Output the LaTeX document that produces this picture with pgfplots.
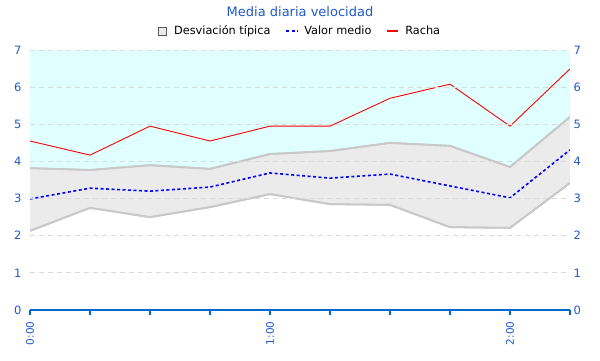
\documentclass[border=0pt]{standalone}
\usepackage{pgfplots}
\pgfplotsset{compat=1.18}
\usepgfplotslibrary{fillbetween}
\usepackage{fontspec}
\setmainfont{DejaVu Sans}
\definecolor{bgcyan}{RGB}{224,255,255}
\definecolor{bandfill}{RGB}{235,235,235}
\definecolor{bandline}{RGB}{200,200,200}
\definecolor{axblue}{RGB}{0,102,204}
\definecolor{txtblue}{RGB}{30,90,200}
\definecolor{gridc}{RGB}{218,218,218}
\begin{document}
\begin{tikzpicture}[x=1pt,y=1pt]
\begin{axis}[
  at={(0,0)}, anchor=south west,
  scale only axis, width=540pt, height=260pt,
  xmin=0, xmax=9, ymin=0, ymax=7,
  axis on top,
  axis x line*=bottom, axis y line*=left,
  y axis line style={draw=none},
  x axis line style={draw=axblue, line width=1.2pt},
  xtick={0,...,9},
  xticklabels={0:00,,,,1:00,,,,2:00,},
  xtick style={draw=axblue, line width=1.2pt},
  tick align=outside,
  major tick length=5pt,
  xticklabel style={rotate=90, anchor=east, font=\fontsize{10.5}{11}\selectfont, text=txtblue, xshift=-3pt},
  ytick={0,...,7},
  ytick style={draw=none},
  yticklabel style={font=\fontsize{11.5}{13}\selectfont, text=txtblue},
  ymajorgrids,
  grid style={gridc, dash pattern=on 5pt off 4pt, line width=0.8pt},
  /pgf/number format/assume math mode=true,
  legend style={at={(0.5,1)}, anchor=center, yshift=19pt, draw=none, fill=none,
    legend columns=3, font=\fontsize{11.3}{13}\selectfont,
    /tikz/every even column/.append style={column sep=13pt}},
  legend cell align=left,
]
% cyan background above band
\addplot[draw=none, fill=bgcyan, forget plot] coordinates {
 (0,3.82) (1,3.77) (2,3.90) (3,3.80) (4,4.20) (5,4.28) (6,4.50) (7,4.42) (8,3.85) (9,5.20)
 (9,7) (0,7)} \closedcycle;
\addplot[name path=up, draw=bandline, line width=1.8pt, forget plot] coordinates {
 (0,3.82) (1,3.77) (2,3.90) (3,3.80) (4,4.20) (5,4.28) (6,4.50) (7,4.42) (8,3.85) (9,5.20)};
\addplot[name path=lo, draw=bandline, line width=1.8pt, forget plot] coordinates {
 (0,2.13) (1,2.75) (2,2.50) (3,2.77) (4,3.12) (5,2.85) (6,2.83) (7,2.23) (8,2.21) (9,3.42)};
\addplot[fill=bandfill, draw=none, forget plot] fill between[of=up and lo];
\addplot[draw=bandline, line width=1.8pt, forget plot] coordinates {
 (0,3.82) (1,3.77) (2,3.90) (3,3.80) (4,4.20) (5,4.28) (6,4.50) (7,4.42) (8,3.85) (9,5.20)};
\addplot[draw=bandline, line width=1.8pt, forget plot] coordinates {
 (0,2.13) (1,2.75) (2,2.50) (3,2.77) (4,3.12) (5,2.85) (6,2.83) (7,2.23) (8,2.21) (9,3.42)};
\addlegendimage{legend image code/.code={\path[draw=none,fill=none] (0pt,0pt) -- (14pt,0pt);\draw[fill=bandfill, draw=gray!70!black, line width=0.6pt] (0pt,-4pt) rectangle (8pt,4pt);}}
\addlegendentry{Desviación típica}
\addplot[blue, line width=1.6pt, dash pattern=on 3pt off 2.5pt,
  legend image code/.code={\draw (0pt,0pt) -- (12pt,0pt);\path[draw=none] (0pt,0pt) -- (16pt,0pt);}] coordinates {
 (0,2.99) (1,3.28) (2,3.20) (3,3.31) (4,3.69) (5,3.55) (6,3.66) (7,3.34) (8,3.02) (9,4.31)};
\addlegendentry{Valor medio}
\addplot[red, line width=0.9pt,
  legend image code/.code={\draw[line width=1.6pt] (0pt,0pt) -- (11pt,0pt);\path[draw=none] (0pt,0pt) -- (16pt,0pt);}] coordinates {
 (0,4.55) (1,4.17) (2,4.95) (3,4.55) (4,4.95) (5,4.95) (6,5.70) (7,6.08) (8,4.95) (9,6.49)};
\addlegendentry{Racha}
\end{axis}
\begin{axis}[
  at={(0,0)}, anchor=south west,
  scale only axis, width=540pt, height=260pt,
  xmin=0, xmax=9, ymin=0, ymax=7,
  axis x line=none, axis y line*=right,
  y axis line style={draw=none},
  ytick={0,...,7}, ytick style={draw=none},
  yticklabel style={font=\fontsize{11.5}{13}\selectfont, text=txtblue},
  /pgf/number format/assume math mode=true,
]
\addplot[draw=none] coordinates {(0,0)};
\end{axis}
\node[text=txtblue, font=\fontsize{13}{15}\selectfont] at (270,298) {Media diaria velocidad};
\pgfresetboundingbox
\path (-30,-50) rectangle (570,310);
\end{tikzpicture}
\end{document}
